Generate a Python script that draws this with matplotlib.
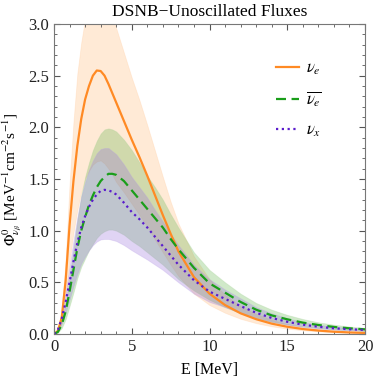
import matplotlib
matplotlib.use("Agg")
import matplotlib.pyplot as plt
from matplotlib.ticker import MultipleLocator

plt.rcParams['font.family'] = ['Liberation Serif', 'DejaVu Serif']
plt.rcParams['mathtext.fontset'] = 'stix'

energy = [0, 0.25, 0.5, 0.75, 1, 1.25, 1.5, 1.75, 2, 2.25, 2.5, 2.75, 3, 3.25, 3.5, 3.75,
          4, 4.25, 4.5, 5, 5.5, 6, 6.5, 7, 7.5, 8, 9, 10, 11, 12, 13, 14, 15, 16, 17, 18, 19, 20]

nue = [0, 0.03, 0.16, 0.52, 1.05, 1.48, 1.82, 2.08, 2.27, 2.4, 2.5, 2.55, 2.545, 2.5, 2.42, 2.33,
       2.24, 2.15, 2.06, 1.88, 1.71, 1.53, 1.34, 1.15, 0.97, 0.8,
       0.55, 0.39, 0.28, 0.2, 0.143, 0.1, 0.07, 0.048, 0.033, 0.022, 0.015, 0.01]
nue_hi = [0, 0.04, 0.24, 0.72, 1.45, 2.05, 2.52, 2.82, 3.05, 3.2, 3.3, 3.36, 3.37, 3.3, 3.2, 3.08,
          2.96, 2.84, 2.72, 2.48, 2.26, 2.02, 1.77, 1.52, 1.28, 1.07,
          0.75, 0.53, 0.38, 0.27, 0.195, 0.137, 0.096, 0.066, 0.045, 0.03, 0.02, 0.014]
nue_lo = [0, 0.02, 0.11, 0.34, 0.7, 0.98, 1.2, 1.37, 1.5, 1.58, 1.64, 1.67, 1.68, 1.65, 1.6, 1.54,
          1.47, 1.42, 1.37, 1.26, 1.15, 1.04, 0.91, 0.79, 0.67, 0.56,
          0.39, 0.28, 0.205, 0.147, 0.105, 0.074, 0.052, 0.036, 0.025, 0.016, 0.011, 0.0075]

nuebar = [0, 0.02, 0.09, 0.22, 0.41, 0.62, 0.83, 1.0, 1.13, 1.25, 1.34, 1.42, 1.48, 1.52, 1.55, 1.55,
          1.54, 1.51, 1.48, 1.39, 1.3, 1.21, 1.12, 1.03, 0.92, 0.82,
          0.64, 0.49, 0.4, 0.31, 0.235, 0.18, 0.142, 0.11, 0.087, 0.068, 0.055, 0.045]
nuebar_hi = [0, 0.03, 0.13, 0.3, 0.55, 0.82, 1.1, 1.34, 1.52, 1.66, 1.78, 1.87, 1.94, 1.98, 1.99, 1.98,
             1.96, 1.92, 1.88, 1.78, 1.66, 1.53, 1.42, 1.3, 1.16, 1.03,
             0.79, 0.62, 0.5, 0.39, 0.3, 0.235, 0.185, 0.145, 0.113, 0.09, 0.072, 0.058]
nuebar_lo = [0, 0.013, 0.058, 0.143, 0.27, 0.4, 0.54, 0.65, 0.73, 0.81, 0.87, 0.93, 0.97, 0.995, 1.01, 1.01,
             1.0, 0.98, 0.96, 0.9, 0.85, 0.79, 0.73, 0.67, 0.6, 0.53,
             0.42, 0.33, 0.26, 0.2, 0.153, 0.117, 0.092, 0.072, 0.056, 0.044, 0.036, 0.029]

nux = [0, 0.04, 0.15, 0.31, 0.5, 0.7, 0.88, 1.03, 1.14, 1.23, 1.3, 1.35, 1.385, 1.395, 1.39, 1.375,
       1.35, 1.31, 1.27, 1.18, 1.11, 1.03, 0.94, 0.85, 0.76, 0.67,
       0.52, 0.41, 0.34, 0.27, 0.205, 0.155, 0.118, 0.09, 0.07, 0.055, 0.046, 0.039]
nux_hi = [0, 0.05, 0.19, 0.4, 0.65, 0.9, 1.13, 1.33, 1.47, 1.59, 1.68, 1.75, 1.79, 1.8, 1.8, 1.77,
          1.74, 1.69, 1.64, 1.52, 1.42, 1.32, 1.2, 1.09, 0.97, 0.86,
          0.67, 0.53, 0.43, 0.345, 0.26, 0.2, 0.152, 0.116, 0.09, 0.071, 0.059, 0.05]
nux_lo = [0, 0.027, 0.1, 0.205, 0.33, 0.46, 0.58, 0.68, 0.75, 0.81, 0.86, 0.895, 0.915, 0.92, 0.92, 0.91,
          0.9, 0.88, 0.86, 0.81, 0.765, 0.72, 0.67, 0.62, 0.56, 0.5,
          0.39, 0.31, 0.26, 0.205, 0.157, 0.119, 0.09, 0.069, 0.054, 0.042, 0.035, 0.03]

labels = [r'$\nu_e$', r'$\overline{\nu_e}$', r'$\nu_x$']
c_or, c_gr, c_pu = '#ff8a24', '#1a9e1a', '#5a1ccc'

fig = plt.figure(figsize=(3.74, 3.81), dpi=100)
ax = fig.add_axes([0.1444, 0.1234, 0.8316, 0.8136])

ax.fill_between(energy, nue_lo, nue_hi, color='#ffb46e', alpha=0.28, lw=0.6,
                edgecolor='#ffc896')
ax.fill_between(energy, nuebar_lo, nuebar_hi, color='#58b040', alpha=0.28, lw=0.6,
                edgecolor='#9fd090')
ax.fill_between(energy, nux_lo, nux_hi, color='#9a72dc', alpha=0.3, lw=0.6,
                edgecolor='#b8a0e6')

ax.plot(energy, nue, color=c_or, lw=1.6, label=labels[0])
ax.plot(energy, nuebar, color=c_gr, lw=1.6, ls=(0, (4.5, 2.5)), label=labels[1])
ax.plot(energy, nux, color=c_pu, lw=1.6, ls=(0, (1, 1.6)), label=labels[2])

ax.set_xlim(0, 20)
ax.set_ylim(0, 3.0)
ax.xaxis.set_major_locator(MultipleLocator(5))
ax.xaxis.set_minor_locator(MultipleLocator(1))
ax.yaxis.set_major_locator(MultipleLocator(0.5))
ax.yaxis.set_minor_locator(MultipleLocator(0.1))
ax.tick_params(which='both', direction='in', top=True, right=True, colors='#555555',
               labelcolor='#222222', labelsize=12)
ax.tick_params(which='major', length=4.5, width=0.8)
ax.tick_params(which='minor', length=2.5, width=0.6)
for s in ax.spines.values():
    s.set_color('#777777')
    s.set_linewidth(0.8)

ax.set_title('DSNB\u2212Unoscillated Fluxes', fontsize=12.5, pad=6)
ax.set_xlabel('E [MeV]', fontsize=11.5, labelpad=5)
ax.set_ylabel(r'$\Phi^0_{\nu_\beta}$ [MeV$^{-1}$cm$^{-2}$s$^{-1}$]', fontsize=11, labelpad=3)

leg = ax.legend(loc='upper left', bbox_to_anchor=(0.715, 0.882), frameon=False,
                fontsize=12, handlelength=1.35, labelspacing=0.78, handletextpad=0.45,
                borderpad=0, borderaxespad=0)

fig.savefig('out.png', dpi=100)
